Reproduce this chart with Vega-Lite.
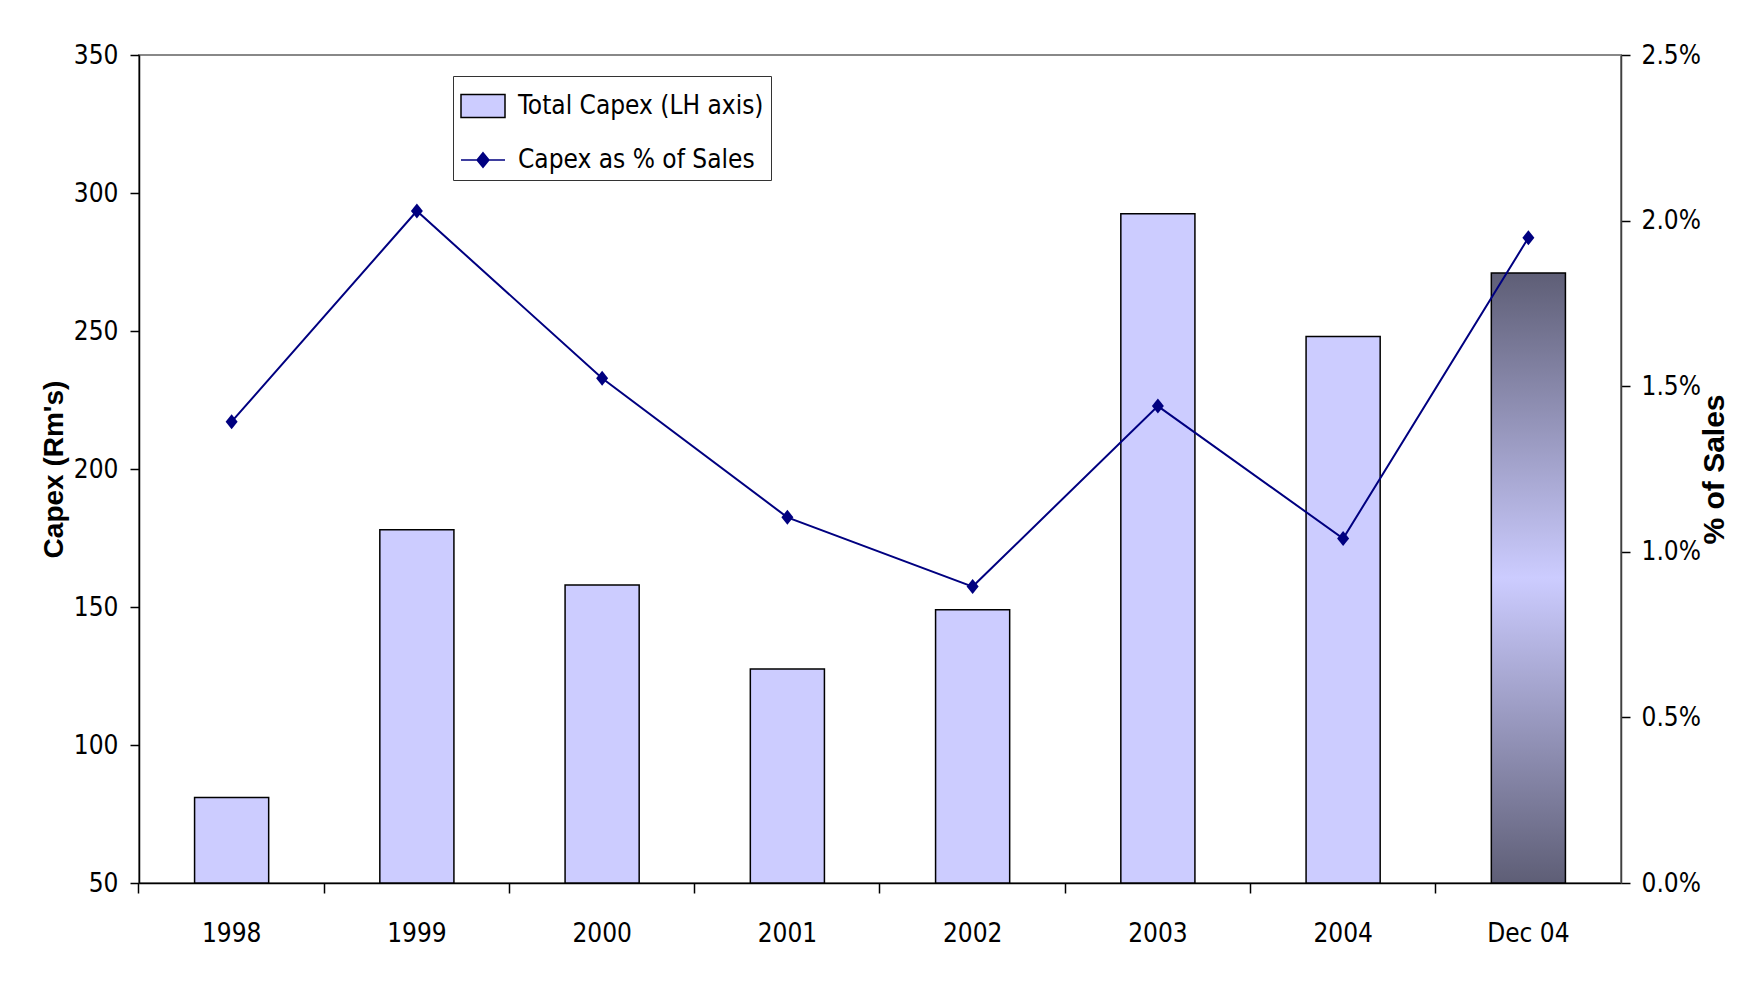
{
  "$schema": "https://vega.github.io/schema/vega-lite/v6.json",
  "width": 1482,
  "height": 828,
  "autosize": {"type": "none"},
  "padding": {"left": 139, "top": 55, "right": 126, "bottom": 99},
  "background": "white",
  "config": {
    "font": "DejaVu Sans Condensed",
    "view": {"stroke": "#888888", "strokeWidth": 2},
    "axis": {
      "domainColor": "black", "domainWidth": 1.5, "tickColor": "black", "tickWidth": 1.5,
      "labelFont": "DejaVu Sans Condensed", "labelFontSize": 26, "labelColor": "black",
      "titleFont": "Liberation Sans", "titleFontWeight": "bold", "titleColor": "black", "grid": false
    },
    "legend": {
      "orient": "none", "legendX": 314, "legendY": 21, "title": null,
      "labelFont": "DejaVu Sans Condensed", "labelFontSize": 26, "labelColor": "black", "labelLimit": 400,
      "strokeColor": "#333333", "fillColor": "white", "padding": 7,
      "symbolSize": 1936, "rowPadding": 16, "labelOffset": 12
    }
  },
  "data": {
    "values": [
      {"year": "1998", "capex": 81, "pct": 0.01393},
      {"year": "1999", "capex": 178, "pct": 0.02029},
      {"year": "2000", "capex": 158, "pct": 0.01524},
      {"year": "2001", "capex": 127.5, "pct": 0.01104},
      {"year": "2002", "capex": 149, "pct": 0.00895},
      {"year": "2003", "capex": 292.5, "pct": 0.0144},
      {"year": "2004", "capex": 248, "pct": 0.0104},
      {"year": "Dec 04", "capex": 271, "pct": 0.01948}
    ]
  },
  "encoding": {
    "x": {
      "field": "year", "type": "ordinal", "sort": null,
      "scale": {"paddingInner": 0.6, "paddingOuter": 0.3},
      "axis": {"title": null, "labelAngle": 0, "bandPosition": -0.75, "tickSize": 10, "labelPadding": 27}
    }
  },
  "layer": [
    {
      "layer": [
        {
          "transform": [{"filter": "datum.year !== 'Dec 04'"}],
          "mark": {"type": "bar", "fill": "#CCCCFF", "stroke": "black", "strokeWidth": 1.5},
          "encoding": {
            "y": {"field": "capex", "type": "quantitative", "scale": {"domain": [50, 350], "nice": false, "zero": false},
              "axis": {"title": "Capex (Rm's)", "titleFontSize": 28, "values": [50, 100, 150, 200, 250, 300, 350], "tickSize": 9, "labelPadding": 12, "titlePadding": 5}},
            "y2": {"datum": 50}
          }
        },
        {
          "transform": [{"filter": "datum.year === 'Dec 04'"}],
          "mark": {"type": "bar", "stroke": "black", "strokeWidth": 1.5,
            "fill": {"gradient": "linear", "x1": 0, "y1": 0, "x2": 0, "y2": 1,
              "stops": [{"offset": 0, "color": "#5E5E76"}, {"offset": 0.5, "color": "#CCCCFF"}, {"offset": 1, "color": "#5E5E76"}]}},
          "encoding": {
            "y": {"field": "capex", "type": "quantitative", "scale": {"domain": [50, 350], "nice": false, "zero": false}},
            "y2": {"datum": 50}
          }
        }
      ]
    },
    {
      "layer": [
        {
          "mark": {"type": "line", "strokeWidth": 2},
          "encoding": {
            "y": {"field": "pct", "type": "quantitative", "scale": {"domain": [0, 0.025], "nice": false},
              "axis": {"orient": "right", "title": "% of Sales", "titleFontSize": 30, "titleAngle": -90, "titleBaseline": "top",
                "values": [0, 0.005, 0.01, 0.015, 0.02, 0.025], "format": ".1%", "tickSize": 9, "labelPadding": 11, "titlePadding": -1, "domainColor": "#404040"}},
            "color": {"datum": "Capex as % of Sales", "type": "nominal",
              "scale": {"domain": ["Total Capex (LH axis)", "Capex as % of Sales"], "range": ["#000000", "#000080"]},
              "legend": {
                "encode": {
                  "symbols": {"update": {
                    "shape": {"signal": "datum.value === 'Total Capex (LH axis)' ? 'M-1,-0.52H1V0.52H-1Z' : 'M-1,0H1M0,-0.33L0.27,0L0,0.33L-0.27,0Z'"},
                    "fill": {"signal": "datum.value === 'Total Capex (LH axis)' ? '#CCCCFF' : '#000080'"},
                    "stroke": {"signal": "datum.value === 'Total Capex (LH axis)' ? '#000000' : '#000080'"},
                    "strokeWidth": {"value": 1.5},
                    "opacity": {"value": 1},
                    "fillOpacity": {"value": 1},
                    "strokeOpacity": {"value": 1}
                  }}
                }
              }
            }
          }
        },
        {
          "mark": {"type": "point", "filled": true, "opacity": 1, "color": "#000080", "shape": "M0,-1L0.8,0L0,1L-0.8,0Z", "size": 225},
          "encoding": {
            "y": {"field": "pct", "type": "quantitative", "scale": {"domain": [0, 0.025], "nice": false}}
          }
        }
      ]
    }
  ],
  "resolve": {"scale": {"y": "independent"}}
}
